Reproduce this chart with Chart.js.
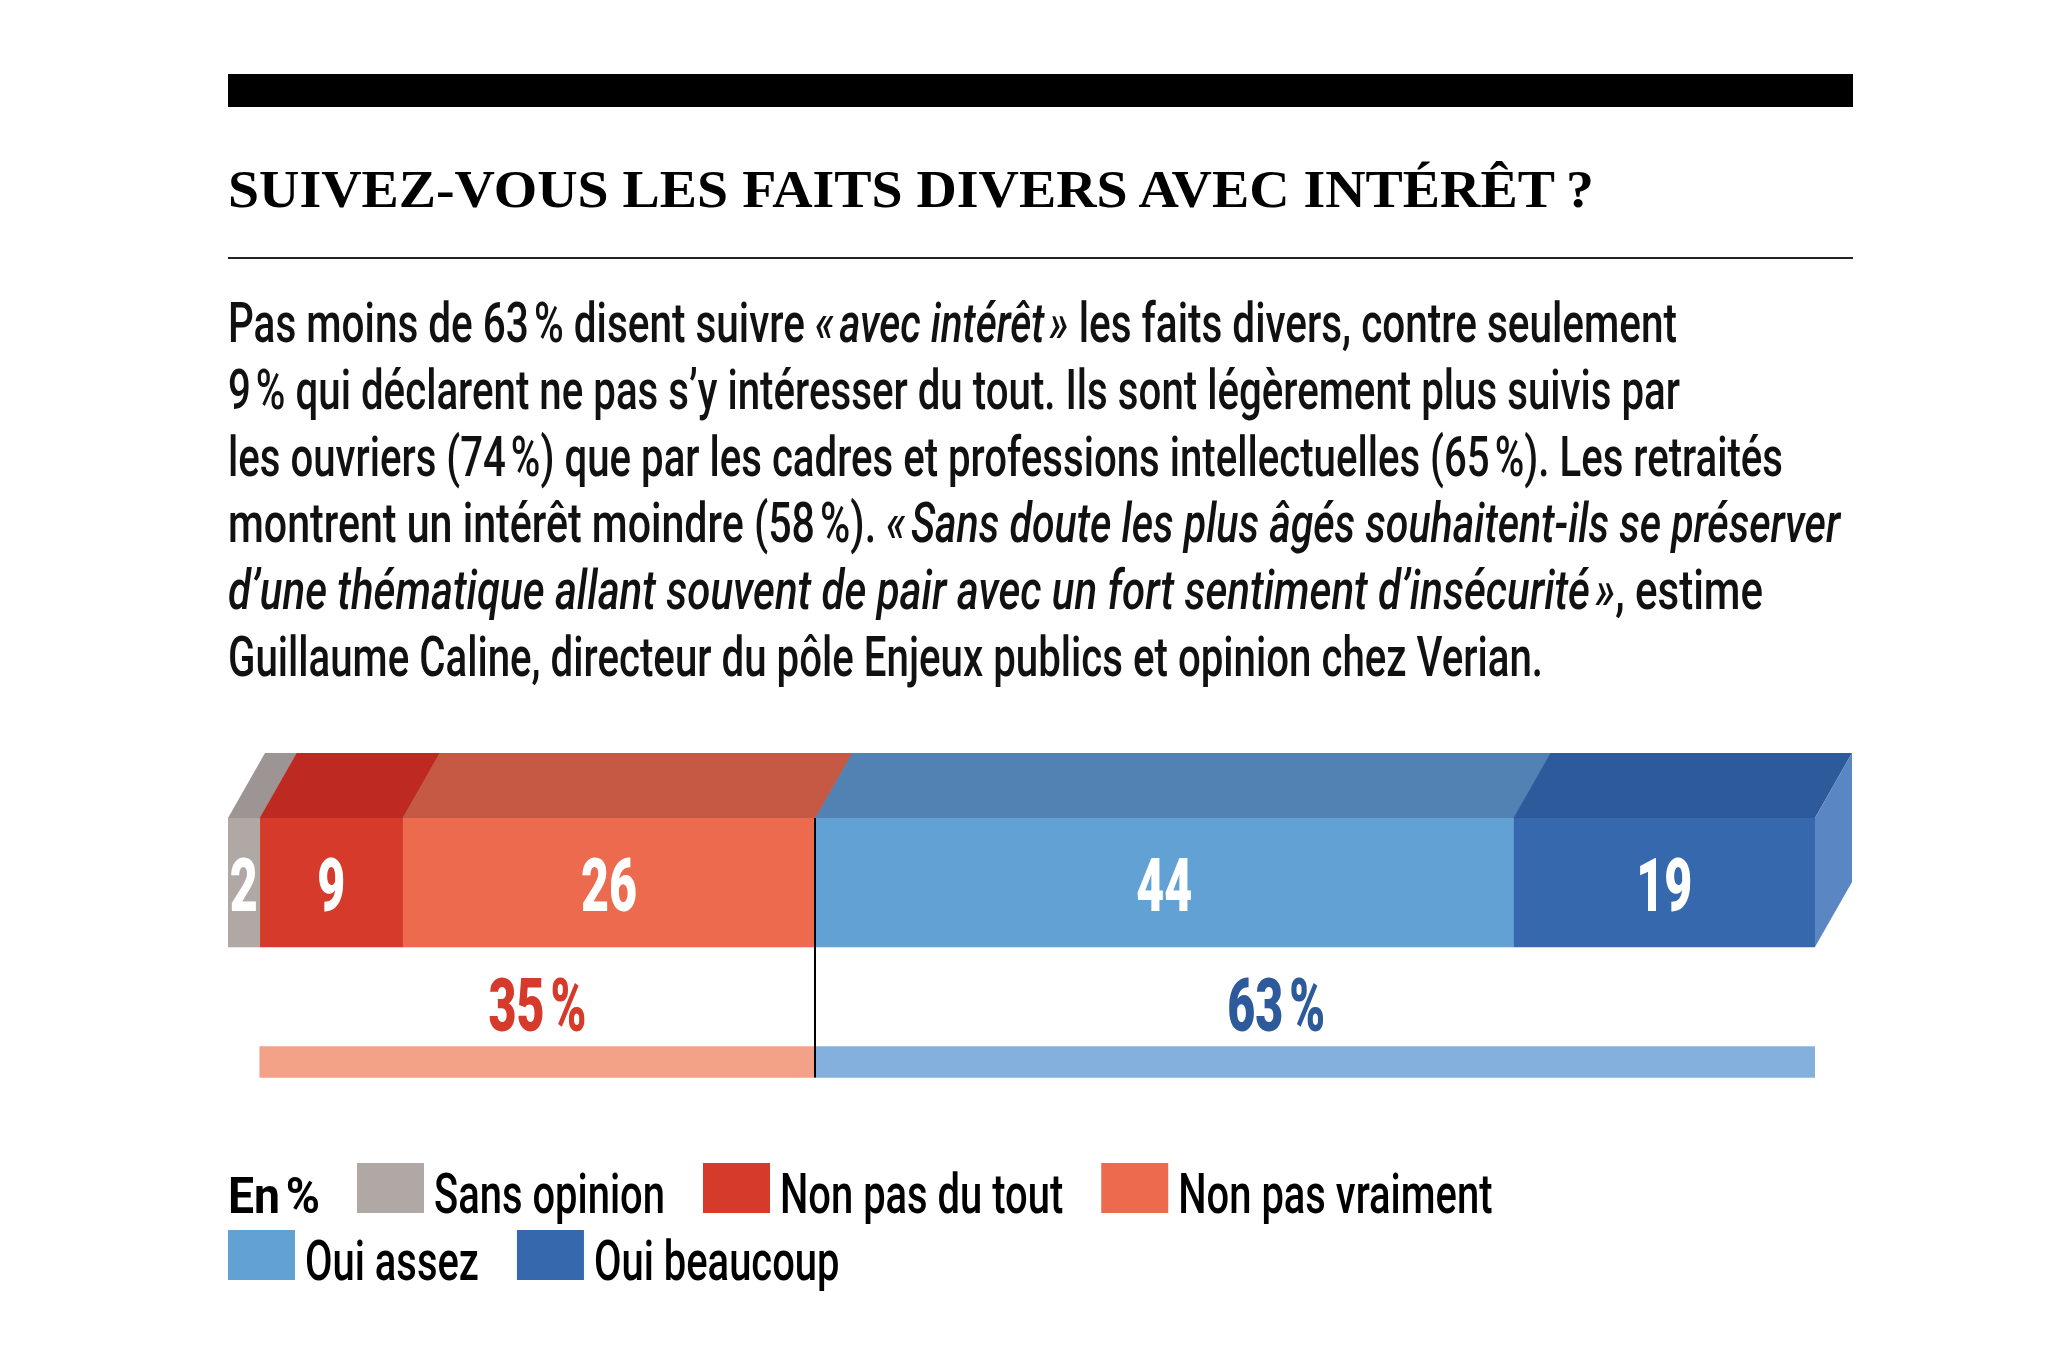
<!DOCTYPE html>
<html lang="fr">
<head>
<meta charset="UTF-8">
<meta name="viewport" content="width=device-width, initial-scale=1.0">
<title>Suivez-vous les faits divers avec intérêt ?</title>
<script src="https://cdn.jsdelivr.net/npm/chart.js"></script>
<style>
    body { margin: 0; background: #fff; }
    .page { position: relative; width: 2045px; height: 1365px; overflow: hidden; }
    #survey { position: absolute; left: 0; top: 0; }
    .topbar { position: absolute; left: 228px; top: 74px; width: 1625px; height: 33px; background: #000; }
    .rule { position: absolute; left: 228px; top: 257px; width: 1625px; height: 2px; background: #222; }
    .title { position: absolute; left: 228px; top: 159px; font: bold 53px "Liberation Serif", serif;
             line-height: 60px; white-space: nowrap; transform-origin: 0 0; color: #000; }
    .para { position: absolute; left: 228px; top: 290px; font: 500 55px Roboto, sans-serif;
            line-height: 66.8px; color: #111; }
    .para > div { white-space: nowrap; transform-origin: 0 0; height: 66.8px; }
</style>
</head>
<body>
<div class="page">
    <canvas id="survey" width="2045" height="1365"></canvas>
    <div class="topbar"></div>
    <div class="title"><span>SUIVEZ-VOUS LES FAITS DIVERS AVEC INTÉRÊT&#8239;?</span></div>
    <div class="rule"></div>
    <div class="para">
        <div><span>Pas moins de 63&#8239;% disent suivre <i>«&#8239;avec intérêt&#8239;»</i> les faits divers, contre seulement</span></div>
        <div><span>9&#8239;% qui déclarent ne pas s’y intéresser du tout. Ils sont légèrement plus suivis par</span></div>
        <div><span>les ouvriers (74&#8239;%) que par les cadres et professions intellectuelles (65&#8239;%). Les retraités</span></div>
        <div><span>montrent un intérêt moindre (58&#8239;%). <i>«&#8239;Sans doute les plus âgés souhaitent-ils se préserver</i></span></div>
        <div><span><i>d’une thématique allant souvent de pair avec un fort sentiment d’insécurité&#8239;»</i>, estime</span></div>
        <div><span>Guillaume Caline, directeur du pôle Enjeux publics et opinion chez Verian.</span></div>
    </div>
</div>

<script>
// --- data ---
const categories = ['Sans opinion', 'Non pas du tout', 'Non pas vraiment', 'Oui assez', 'Oui beaucoup'];
const values = [2, 9, 26, 44, 19];
const groupNames = ['Non', 'Oui'];
const groupValues = [35, 63];
const rowLabels = ['Réponses', 'Total'];

// --- styles ---
const frontColors = ['#b0a8a5', '#d63a2a', '#ec6a4d', '#62a1d4', '#3668ae'];
const topColors = ['#9c9594', '#be2922', '#c55943', '#5281b4', '#2c5a9b'];
const sideColor = '#5b86c4';
const groupBarColors = ['#f4a287', '#84b0dd'];
const groupTextColors = ['#d63a2a', '#2d5a9b'];
const groupLabelShift = [0, -39];
const DEPTH_X = 37, DEPTH_Y = 65;

// condense the html text: title to the column, each paragraph line to its width in the layout
const lineWidths = [1449, 1452, 1555, 1612, 1535, 1315];
const titleSpan = document.querySelector('.title span');
const titleW = titleSpan.getBoundingClientRect().width;
const paraLines = Array.from(document.querySelectorAll('.para > div'));
const naturalW = paraLines.map(d => d.querySelector('span').getBoundingClientRect().width);
document.querySelector('.title').style.transform = 'scaleX(' + (1366 / titleW) + ')';
paraLines.forEach((d, i) => d.style.transform = 'scaleX(' + (lineWidths[i] / naturalW[i]) + ')');

// draws text squeezed horizontally, returns drawn width
function squeezed(ctx, str, x, y, sx, align) {
    const w = ctx.measureText(str).width * sx;
    const x0 = align === 'center' ? x - w / 2 : x;
    ctx.save();
    ctx.translate(x0, y);
    ctx.scale(sx, 1);
    ctx.textAlign = 'left';
    ctx.fillText(str, 0, 0);
    ctx.restore();
    return w;
}

const datasets = categories.map((c, i) => ({
    label: c,
    data: [values[i], null],
    backgroundColor: frontColors[i],
    barThickness: 129,
    stack: 'all'
}));
// empty slot under "Sans opinion", then the two totals
datasets.push({
    label: 'spacer',
    data: [null, values[0]],
    backgroundColor: 'rgba(0,0,0,0)',
    barThickness: 31,
    stack: 'all'
});
groupNames.forEach((g, i) => datasets.push({
    label: g,
    data: [null, groupValues[i]],
    backgroundColor: groupBarColors[i],
    barThickness: 31,
    stack: 'all'
}));

const boxPlugin = {
    id: 'box3d',
    afterDatasetsDraw(chart) {
        const ctx = chart.ctx;
        const bars = categories.map((c, i) => chart.getDatasetMeta(i).data[0]);

        // top faces
        bars.forEach((bar, i) => {
            const top = bar.y - bar.height / 2;
            const ext = i < bars.length - 1 ? 0.6 : 0;
            ctx.fillStyle = topColors[i];
            ctx.beginPath();
            ctx.moveTo(bar.base, top);
            ctx.lineTo(bar.x + ext, top);
            ctx.lineTo(bar.x + ext + DEPTH_X, top - DEPTH_Y);
            ctx.lineTo(bar.base + DEPTH_X, top - DEPTH_Y);
            ctx.closePath();
            ctx.fill();
        });
        // right side
        const last = bars[bars.length - 1];
        const lt = last.y - last.height / 2, lb = last.y + last.height / 2;
        ctx.fillStyle = sideColor;
        ctx.beginPath();
        ctx.moveTo(last.x, lt);
        ctx.lineTo(last.x + DEPTH_X, lt - DEPTH_Y);
        ctx.lineTo(last.x + DEPTH_X, lb - DEPTH_Y);
        ctx.lineTo(last.x, lb);
        ctx.closePath();
        ctx.fill();

        // values on the bars
        ctx.fillStyle = '#fff';
        ctx.font = '900 75px Roboto';
        ctx.textBaseline = 'alphabetic';
        const numScale = 56 / ctx.measureText('26').width;
        bars.forEach((bar, i) => {
            squeezed(ctx, String(values[i]), (bar.base + bar.x) / 2, bar.y + 28, numScale, 'center');
        });

        // group totals
        const firstGroup = categories.length + 1;
        groupNames.forEach((g, i) => {
            const gb = chart.getDatasetMeta(firstGroup + i).data[1];
            ctx.fillStyle = groupTextColors[i];
            squeezed(ctx, groupValues[i] + '\u202F%', (gb.base + gb.x) / 2 + groupLabelShift[i],
                gb.y - gb.height / 2 - 16, numScale, 'center');
        });

        // divider between Non and Oui
        const gLast = chart.getDatasetMeta(firstGroup).data[1];
        const divX = Math.round(bars[2].x);
        ctx.strokeStyle = '#000';
        ctx.lineWidth = 2;
        ctx.beginPath();
        ctx.moveTo(divX, bars[2].y - bars[2].height / 2);
        ctx.lineTo(divX, gLast.y + gLast.height / 2);
        ctx.stroke();
    },
    afterDraw(chart) {
        // legend: "En %" then swatches, Non items on the first row, Oui items below
        const ctx = chart.ctx;
        const left = chart.chartArea.left;
        const rows = [1213, 1280];
        ctx.textBaseline = 'alphabetic';
        ctx.font = 'bold 50px Roboto';
        ctx.fillStyle = '#000';
        const boldScale = 92 / ctx.measureText('En\u202F%').width;
        let x = left + squeezed(ctx, 'En\u202F%', left, rows[0], boldScale) + 37;
        ctx.font = '500 56px Roboto';
        const legScale = 231 / ctx.measureText('Sans opinion').width;
        let row = 0;
        categories.forEach((c, i) => {
            if (i === 3) { row = 1; x = left; }
            const base = rows[row];
            ctx.fillStyle = frontColors[i];
            ctx.fillRect(x, base - 50, 67, 50);
            ctx.fillStyle = '#000';
            x += 67 + 10;
            x += squeezed(ctx, c, x, base, legScale) + 38;
        });
    }
};

new Chart(document.getElementById('survey'), {
    type: 'bar',
    data: { labels: rowLabels, datasets: datasets },
    options: {
        indexAxis: 'y',
        responsive: false,
        animation: false,
        devicePixelRatio: 1,
        layout: { padding: { left: 228, right: 230, top: 792.75, bottom: 213.25 } },
        scales: {
            x: { stacked: true, min: 0, max: 100, display: false },
            y: { stacked: true, display: false }
        },
        plugins: {
            legend: { display: false },
            tooltip: { enabled: false }
        }
    },
    plugins: [boxPlugin]
});
</script>
</body>
</html>
